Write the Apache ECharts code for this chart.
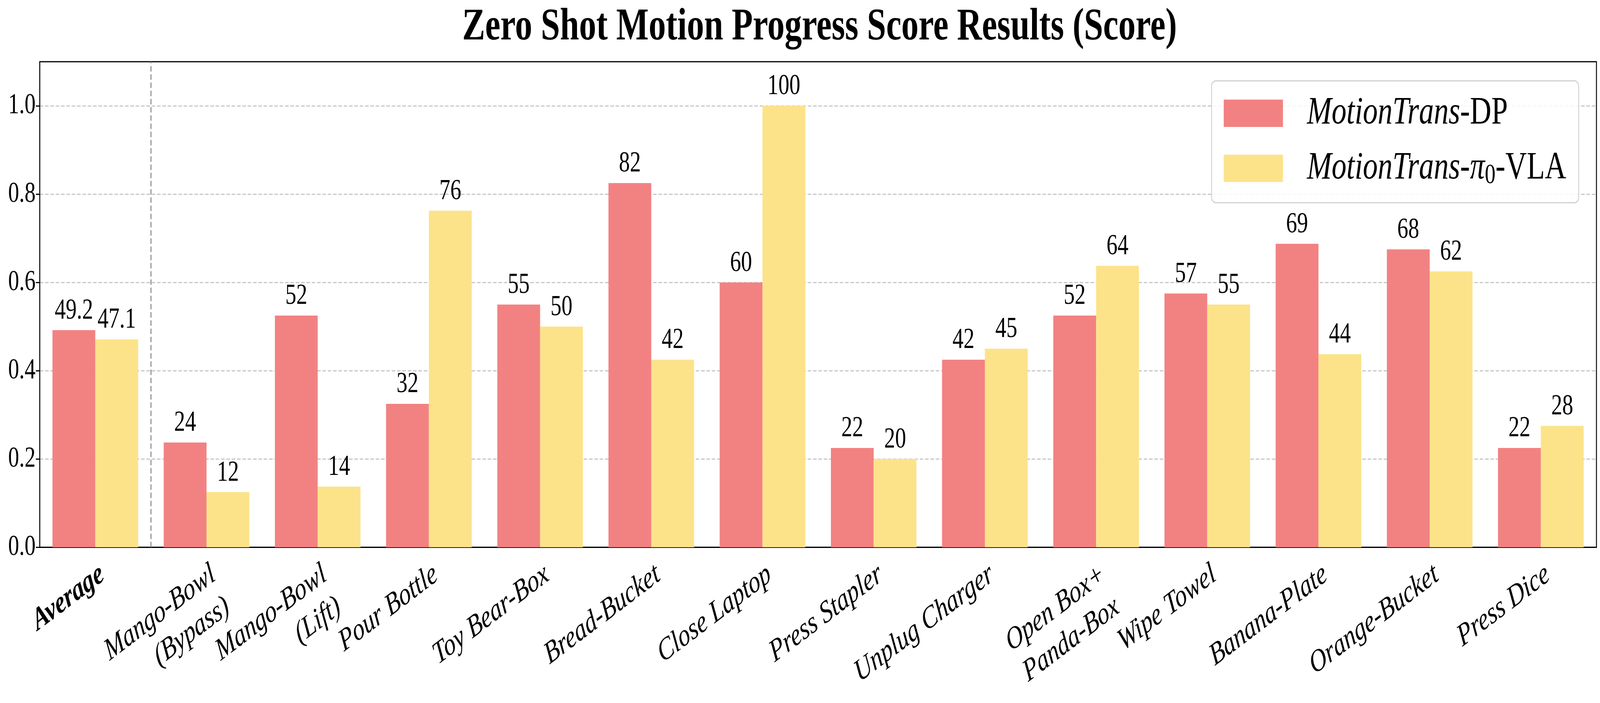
<!DOCTYPE html>
<html>
<head>
<meta charset="utf-8">
<script src="https://cdn.jsdelivr.net/npm/echarts@6/dist/echarts.min.js"></script>
<style>
  html, body { margin: 0; padding: 0; background: #fff; overflow: hidden; }
  #chart { width: 5400px; height: 1800px; transform-origin: 0 0; }
</style>
</head>
<body>
<div id="chart"></div>
<script>
var categories = ['Average', 'Mango-Bowl\n(Bypass)', 'Mango-Bowl\n(Lift)', 'Pour Bottle', 'Toy Bear-Box',
    'Bread-Bucket', 'Close Laptop', 'Press Stapler', 'Unplug Charger', 'Open Box+\nPanda-Box',
    'Wipe Towel', 'Banana-Plate', 'Orange-Bucket', 'Press Dice'];
var dpScores = [0.492, 0.2375, 0.525, 0.325, 0.55, 0.825, 0.6, 0.225, 0.425, 0.525, 0.575, 0.6875, 0.675, 0.225];
var vlaScores = [0.471, 0.125, 0.1375, 0.7625, 0.5, 0.425, 1.0, 0.2, 0.45, 0.6375, 0.55, 0.4375, 0.625, 0.275];
var dpLabels = ['49.2', '24', '52', '32', '55', '82', '60', '22', '42', '52', '57', '69', '68', '22'];
var vlaLabels = ['47.1', '12', '14', '76', '50', '42', '100', '20', '45', '64', '55', '44', '62', '28'];
var yTicks = [0, 0.2, 0.4, 0.6, 0.8, 1.0];
var seriesNames = ['MotionTrans-DP', 'MotionTrans-\u03c00-VLA'];
// dashed divider after the Average group (boundary index on the category band)
var dividerAt = 1;

var FONT = 'Liberation Serif';

var chart = {
    render: function () {
        var dom = document.getElementById('chart');
        // the browser window comes out narrower than 5400 css px, so squeeze the 5400x1800 chart into it
        var sx = window.innerWidth / 5400;
        var sy = window.innerHeight / 1800;
        dom.style.transform = 'scale(' + sx + ',' + sy + ')';
        var myChart = echarts.init(dom, null, { devicePixelRatio: 1 });
        var option = {
            backgroundColor: '#fff',
            animation: false,
            title: {
                text: 'Zero Shot Motion Progress Score Results (Score)',
                left: 2761,
                top: 8,
                textAlign: 'center',
                textStyle: {
                    fontFamily: FONT,
                    fontWeight: 'bold',
                    fontSize: 116,
                    color: '#000'
                }
            },
            legend: {
                orient: 'vertical',
                left: 4089,
                top: 207,
                icon: 'rect',
                itemWidth: 200,
                itemHeight: 70,
                itemGap: 31,
                padding: [28, 42, 33, 41],
                borderColor: '#d0d0d0',
                borderWidth: 3,
                borderRadius: 14,
                backgroundColor: 'rgba(255,255,255,0.85)',
                data: seriesNames,
                formatter: function (name) {
                    if (name === seriesNames[0]) {
                        return '{i|MotionTrans}{n|-DP}';
                    }
                    return '{i|MotionTrans}{n|-}{i|\u03c0}{s|0}{n|-VLA}';
                },
                textStyle: {
                    fontFamily: FONT,
                    fontSize: 100,
                    lineHeight: 110,
                    color: '#000',
                    padding: [0, 0, 0, 76],
                    rich: {
                        i: { fontFamily: FONT, fontSize: 100, fontStyle: 'italic', lineHeight: 110, color: '#000' },
                        n: { fontFamily: FONT, fontSize: 100, lineHeight: 110, color: '#000' },
                        s: { fontFamily: FONT, fontSize: 72, lineHeight: 72, verticalAlign: 'bottom', color: '#000' }
                    }
                }
            },
            grid: {
                left: 134,
                right: 12,
                top: 158,
                bottom: 389,
                show: true,
                borderColor: '#000',
                borderWidth: 3
            },
            xAxis: [{
                type: 'category',
                data: categories,
                axisLine: { lineStyle: { color: '#000', width: 3 } },
                axisTick: { alignWithLabel: true, length: 13, lineStyle: { color: '#000', width: 3 } },
                splitLine: { show: false },
                axisLabel: {
                    interval: 0,
                    rotate: 30,
                    margin: 22,
                    verticalAlign: 'top',
                    fontFamily: FONT,
                    fontStyle: 'italic',
                    fontSize: 80,
                    lineHeight: 96,
                    color: '#000',
                    formatter: function (value) {
                        return value === 'Average' ? '{b|Average}' : value;
                    },
                    rich: {
                        b: { fontFamily: FONT, fontStyle: 'italic', fontWeight: 'bold', fontSize: 80, lineHeight: 96, color: '#000' }
                    }
                }
            }, {
                // hidden helper axis in band units, only used to place the divider
                type: 'value',
                show: false,
                min: 0,
                max: categories.length,
                position: 'bottom'
            }],
            yAxis: {
                type: 'value',
                min: 0,
                max: 1.1,
                interval: 0.2,
                axisLine: { show: true, lineStyle: { color: '#000', width: 3 } },
                axisTick: { show: true, length: 13, customValues: yTicks, lineStyle: { color: '#000', width: 3 } },
                splitLine: { show: true, lineStyle: { color: '#c8c8c8', width: 3, type: [12, 6] } },
                axisLabel: {
                    customValues: yTicks,
                    margin: 14,
                    fontFamily: FONT,
                    fontSize: 74,
                    color: '#000',
                    formatter: function (v) { return v.toFixed(1); }
                }
            },
            series: [{
                name: seriesNames[0],
                type: 'bar',
                data: dpScores,
                barGap: '0%',
                barCategoryGap: '23%',
                itemStyle: { color: '#F28282' },
                label: {
                    show: true,
                    position: 'top',
                    distance: 12,
                    fontFamily: FONT,
                    fontSize: 74,
                    color: '#000',
                    formatter: function (p) { return dpLabels[p.dataIndex]; }
                }
            }, {
                name: seriesNames[1],
                type: 'bar',
                data: vlaScores,
                barGap: '0%',
                barCategoryGap: '23%',
                itemStyle: { color: '#FCE38A' },
                label: {
                    show: true,
                    position: 'top',
                    distance: 12,
                    fontFamily: FONT,
                    fontSize: 74,
                    color: '#000',
                    formatter: function (p) { return vlaLabels[p.dataIndex]; }
                }
            }, {
                name: 'divider',
                type: 'line',
                xAxisIndex: 1,
                data: [],
                silent: true,
                markLine: {
                    silent: true,
                    symbol: 'none',
                    label: { show: false },
                    lineStyle: { color: '#808080', width: 3, type: [14, 7] },
                    data: [{ xAxis: dividerAt }]
                }
            }]
        };

        myChart.setOption(option);
    }
};

chart.render();
</script>
</body>
</html>
